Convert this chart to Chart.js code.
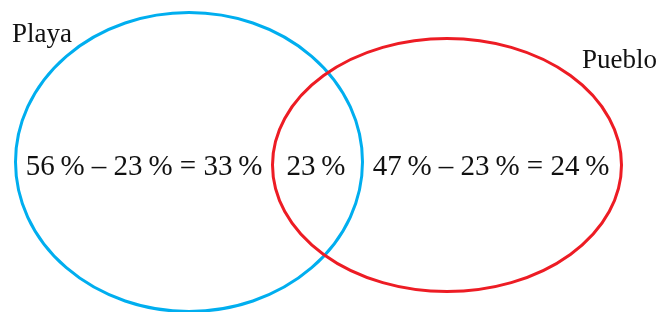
<!DOCTYPE html>
<html>
<head>
<meta charset="utf-8">
<script src="https://cdn.jsdelivr.net/npm/chart.js@4/dist/chart.umd.min.js"></script>
<style>
  html, body { margin: 0; padding: 0; background: #fff; }
  #wrap { width: 658px; height: 312px; }
</style>
</head>
<body>
<div id="wrap"><canvas id="venn" width="658" height="312"></canvas></div>
<script>
// data
const setNames = ['Playa', 'Pueblo'];
const setTotals = [56, 47];       // % in each set
const bothValue = 23;             // % in both

// layout (scale units = pixels of the 658x312 picture)
const ellipses = [
  { cx: 189, cy: 162, rx: 173.5, ry: 149.5, color: '#00aeef' },
  { cx: 447, cy: 165, rx: 174.5, ry: 126.5, color: '#ed1c24' }
];
const nameSpots = [{ x: 12, y: 42, align: 'left' }, { x: 582, y: 68, align: 'left' }];
const valueSpots = [{ x: 144, y: 175 }, { x: 491, y: 175 }];
const bothSpot = { x: 316, y: 175 };

const serif = '"Liberation Serif", "DejaVu Serif", serif';
const pct = v => `${v}\u2009%`;

const vennPlugin = {
  id: 'venn',
  afterDatasetsDraw(chart) {
    const ctx = chart.ctx;
    const sx = chart.scales.x, sy = chart.scales.y;
    ctx.save();
    ellipses.forEach(e => {
      const cx = sx.getPixelForValue(e.cx), cy = sy.getPixelForValue(e.cy);
      const rx = Math.abs(sx.getPixelForValue(e.cx + e.rx) - cx);
      const ry = Math.abs(sy.getPixelForValue(e.cy + e.ry) - cy);
      ctx.beginPath();
      ctx.ellipse(cx, cy, rx, ry, 0, 0, Math.PI * 2);
      ctx.lineWidth = 3;
      ctx.strokeStyle = e.color;
      ctx.stroke();
    });
    ctx.fillStyle = '#111';
    ctx.textBaseline = 'alphabetic';
    ctx.font = '27px ' + serif;
    setNames.forEach((name, i) => {
      ctx.textAlign = nameSpots[i].align;
      ctx.fillText(name, sx.getPixelForValue(nameSpots[i].x), sy.getPixelForValue(nameSpots[i].y));
    });
    ctx.font = '29px ' + serif;
    ctx.textAlign = 'center';
    setTotals.forEach((t, i) => {
      const txt = `${pct(t)} \u2013 ${pct(bothValue)} = ${pct(t - bothValue)}`;
      ctx.fillText(txt, sx.getPixelForValue(valueSpots[i].x), sy.getPixelForValue(valueSpots[i].y));
    });
    ctx.fillText(pct(bothValue), sx.getPixelForValue(bothSpot.x), sy.getPixelForValue(bothSpot.y));
    ctx.restore();
  }
};

new Chart('venn', {
  type: 'scatter',
  data: {
    datasets: [{
      data: ellipses.map((e, i) => ({ x: e.cx, y: e.cy, name: setNames[i] })),
      pointRadius: 0,
      pointHoverRadius: 0
    }]
  },
  options: {
    responsive: false,
    animation: false,
    events: [],
    layout: { padding: 0 },
    scales: {
      x: { type: 'linear', min: 0, max: 658, display: false },
      y: { type: 'linear', min: 0, max: 312, reverse: true, display: false }
    },
    plugins: { legend: { display: false }, tooltip: { enabled: false } }
  },
  plugins: [vennPlugin]
});
</script>
</body>
</html>
